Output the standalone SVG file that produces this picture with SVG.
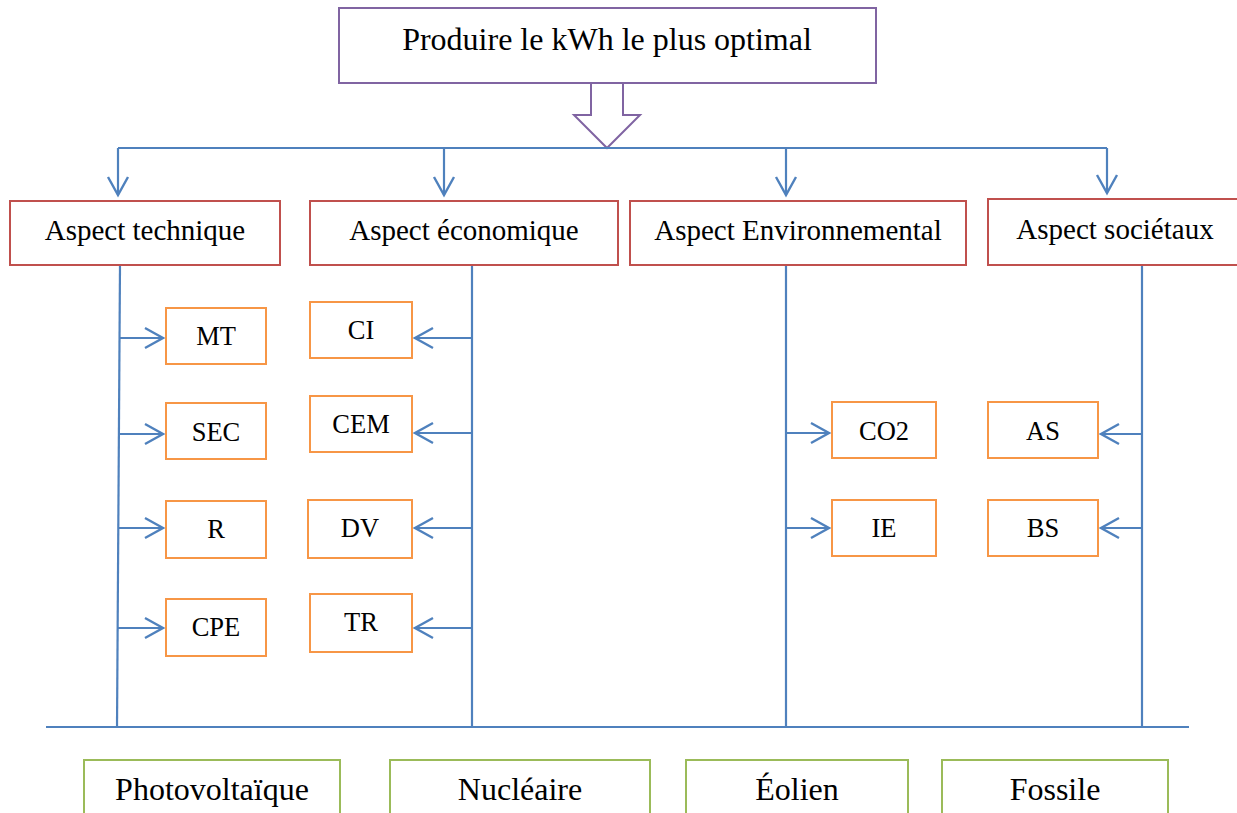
<svg xmlns="http://www.w3.org/2000/svg" width="1237" height="813" viewBox="0 0 1237 813">
  <defs>
    <style>
      text { font-family: "Liberation Serif", "Times New Roman", serif; fill: #000; text-anchor: middle; }
      .goal { fill: #fff; stroke: #8064A2; stroke-width: 2; }
      .aspect { fill: #fff; stroke: #C0504D; stroke-width: 2; }
      .crit { fill: #fff; stroke: #F79646; stroke-width: 2; }
      .source { fill: #fff; stroke: #9BBB59; stroke-width: 2; }
      .wire { fill: none; stroke: #4F81BD; stroke-width: 2.2; }
      .t32 { font-size: 32px; }
      .t29 { font-size: 29px; }
      .t27 { font-size: 26.5px; }
    </style>
    <marker id="chev" markerUnits="userSpaceOnUse" markerWidth="24" markerHeight="24" viewBox="0 0 24 24" refX="20" refY="12" orient="auto">
      <path d="M2,2 L20,12 L2,22" fill="none" stroke="#4F81BD" stroke-width="2.4"/>
    </marker>
  </defs>

  <!-- goal -->
  <g id="goal">
    <rect class="goal" x="339" y="8" width="537" height="75"/>
    <text class="t32" x="607" y="50">Produire le kWh le plus optimal</text>
  </g>
  <g id="goal-arrow">
    <path class="goal" d="M591,83 L623,83 L623,115 L640,115 L607,148 L574,115 L591,115 Z"/>
  </g>

  <!-- connectors -->
  <g id="connectors">
    <path class="wire" d="M118,148 L1107,148"/>
    <path class="wire" d="M118,148 L118,195" marker-end="url(#chev)"/>
    <path class="wire" d="M444,148 L444,195" marker-end="url(#chev)"/>
    <path class="wire" d="M786,148 L786,195" marker-end="url(#chev)"/>
    <path class="wire" d="M1107,148 L1107,193" marker-end="url(#chev)"/>

    <path class="wire" d="M120,265 L117,727"/>
    <path class="wire" d="M472,265 L472,727"/>
    <path class="wire" d="M786,265 L786,727"/>
    <path class="wire" d="M1142,265 L1142,727"/>
    <path class="wire" d="M46,727 L1189,727"/>

    <path class="wire" d="M119,338 L163,338" marker-end="url(#chev)"/>
    <path class="wire" d="M119,434 L163,434" marker-end="url(#chev)"/>
    <path class="wire" d="M118,528 L163,528" marker-end="url(#chev)"/>
    <path class="wire" d="M118,628 L163,628" marker-end="url(#chev)"/>

    <path class="wire" d="M472,338 L415,338" marker-end="url(#chev)"/>
    <path class="wire" d="M472,433 L415,433" marker-end="url(#chev)"/>
    <path class="wire" d="M472,528 L415,528" marker-end="url(#chev)"/>
    <path class="wire" d="M472,628 L415,628" marker-end="url(#chev)"/>

    <path class="wire" d="M786,433 L829,433" marker-end="url(#chev)"/>
    <path class="wire" d="M786,528 L829,528" marker-end="url(#chev)"/>

    <path class="wire" d="M1142,434 L1101,434" marker-end="url(#chev)"/>
    <path class="wire" d="M1142,528 L1101,528" marker-end="url(#chev)"/>
  </g>

  <!-- aspects -->
  <g id="aspect-technique">
    <rect class="aspect" x="10" y="201" width="270" height="64"/>
    <text class="t29" x="145" y="240">Aspect technique</text>
  </g>
  <g id="aspect-economique">
    <rect class="aspect" x="310" y="201" width="308" height="64"/>
    <text class="t29" x="464" y="240">Aspect économique</text>
  </g>
  <g id="aspect-environnemental">
    <rect class="aspect" x="630" y="201" width="336" height="64"/>
    <text class="t29" x="798" y="240">Aspect Environnemental</text>
  </g>
  <g id="aspect-societaux">
    <rect class="aspect" x="988" y="199" width="252" height="66"/>
    <text class="t29" x="1115" y="239">Aspect sociétaux</text>
  </g>

  <!-- technical criteria -->
  <g id="mt">
    <rect class="crit" x="166" y="308" width="100" height="56"/>
    <text class="t27" x="216" y="345">MT</text>
  </g>
  <g id="sec">
    <rect class="crit" x="166" y="403" width="100" height="56"/>
    <text class="t27" x="216" y="441">SEC</text>
  </g>
  <g id="r">
    <rect class="crit" x="166" y="501" width="100" height="57"/>
    <text class="t27" x="216" y="538">R</text>
  </g>
  <g id="cpe">
    <rect class="crit" x="166" y="599" width="100" height="57"/>
    <text class="t27" x="216" y="636">CPE</text>
  </g>

  <!-- economic criteria -->
  <g id="ci">
    <rect class="crit" x="310" y="302" width="102" height="56"/>
    <text class="t27" x="361" y="339">CI</text>
  </g>
  <g id="cem">
    <rect class="crit" x="310" y="396" width="102" height="56"/>
    <text class="t27" x="361" y="433">CEM</text>
  </g>
  <g id="dv">
    <rect class="crit" x="308" y="500" width="104" height="58"/>
    <text class="t27" x="360" y="537">DV</text>
  </g>
  <g id="tr">
    <rect class="crit" x="310" y="594" width="102" height="58"/>
    <text class="t27" x="361" y="631">TR</text>
  </g>

  <!-- environmental criteria -->
  <g id="co2">
    <rect class="crit" x="832" y="402" width="104" height="56"/>
    <text class="t27" x="884" y="440">CO2</text>
  </g>
  <g id="ie">
    <rect class="crit" x="832" y="500" width="104" height="56"/>
    <text class="t27" x="884" y="537">IE</text>
  </g>

  <!-- societal criteria -->
  <g id="as">
    <rect class="crit" x="988" y="402" width="110" height="56"/>
    <text class="t27" x="1043" y="440">AS</text>
  </g>
  <g id="bs">
    <rect class="crit" x="988" y="500" width="110" height="56"/>
    <text class="t27" x="1043" y="537">BS</text>
  </g>

  <!-- energy sources -->
  <g id="photovoltaique">
    <rect class="source" x="84" y="760" width="256" height="70"/>
    <text class="t32" x="212" y="800">Photovoltaïque</text>
  </g>
  <g id="nucleaire">
    <rect class="source" x="390" y="760" width="260" height="70"/>
    <text class="t32" x="520" y="800">Nucléaire</text>
  </g>
  <g id="eolien">
    <rect class="source" x="686" y="760" width="222" height="70"/>
    <text class="t32" x="797" y="800">Éolien</text>
  </g>
  <g id="fossile">
    <rect class="source" x="942" y="760" width="226" height="70"/>
    <text class="t32" x="1055" y="800">Fossile</text>
  </g>
</svg>
